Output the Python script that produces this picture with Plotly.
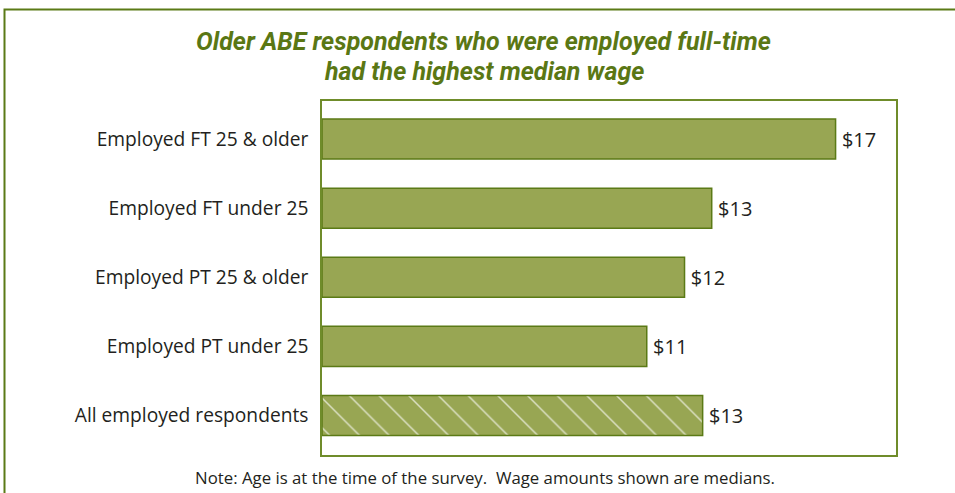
import plotly.graph_objects as go

# Median hourly wage by employment group
categories = [
    "Employed FT 25 & older",
    "Employed FT under 25",
    "Employed PT 25 & older",
    "Employed PT under 25",
    "All employed respondents",
]
median_wage = [17.0, 12.9, 12.0, 10.75, 12.6]

title_lines = [
    "Older ABE respondents who were employed full-time",
    "had the highest median wage",
]
note_text = "Note: Age is at the time of the survey.  Wage amounts shown are medians."

OLIVE_LINE = "#5b7a16"
FRAME = "#6f8c2a"
BAR_FILL = "#98a653"
TEXT = "#231f20"
TITLE = "#5a7714"

# Plot-area geometry (pixels)
W, H = 955, 493
L, R, T, B = 322, 896, 101, 455
pw, ph = R - L, B - T


def px_x(x):
    return (x - L) / pw


def px_y(y):
    return (B - y) / ph


n = len(categories)
patterns = [""] * (n - 1) + ["\\"]

fig = go.Figure(
    go.Bar(
        x=median_wage,
        y=categories,
        orientation="h",
        width=0.58,
        marker=dict(
            color=BAR_FILL,
            line=dict(color=OLIVE_LINE, width=1.5),
            pattern=dict(
                shape=patterns,
                fgcolor="white",
                fgopacity=0.65,
                size=21,
                solidity=0.07,
            ),
        ),
        texttemplate="\u2009$%{x:.0f}",
        textposition="outside",
        textfont=dict(family="Open Sans", size=20, color=TEXT),
        cliponaxis=False,
        hoverinfo="skip",
    )
)

title_annotations = [
    dict(
        text="<b><i>" + line + "</i></b>",
        xref="paper",
        yref="paper",
        x=px_x(483.5),
        y=px_y(yc),
        xanchor="center",
        yanchor="middle",
        showarrow=False,
        font=dict(family="Roboto", size=25, color=TITLE),
    )
    for line, yc in zip(title_lines, [42, 71])
]

fig.update_layout(
    width=W,
    height=H,
    margin=dict(l=L, r=W - R, t=T, b=H - B, pad=0),
    paper_bgcolor="white",
    plot_bgcolor="white",
    showlegend=False,
    font=dict(family="Open Sans", color=TEXT),
    xaxis=dict(
        range=[0, 19],
        showgrid=False,
        zeroline=False,
        showticklabels=False,
        ticks="",
        showline=True,
        mirror=True,
        linecolor=FRAME,
        linewidth=1.5,
        fixedrange=True,
    ),
    yaxis=dict(
        type="category",
        range=[4.572, -0.551],
        showgrid=False,
        zeroline=False,
        ticks="",
        ticklabelstandoff=8,
        tickfont=dict(family="Open Sans", size=19.2, color=TEXT),
        showline=True,
        mirror=True,
        linecolor=FRAME,
        linewidth=1.5,
        fixedrange=True,
    ),
    annotations=title_annotations + [
        dict(
            text=note_text,
            xref="paper",
            yref="paper",
            x=px_x(484.5),
            y=px_y(478),
            xanchor="center",
            yanchor="middle",
            showarrow=False,
            font=dict(family="Open Sans", size=16.8, color=TEXT),
        ),
    ],
    shapes=[
        # outer panel border (runs off the right and bottom edges)
        dict(
            type="rect",
            xref="paper",
            yref="paper",
            x0=px_x(4.5),
            x1=px_x(W + 20),
            y0=px_y(H + 20),
            y1=px_y(9.5),
            line=dict(color=OLIVE_LINE, width=2),
            fillcolor="rgba(0,0,0,0)",
            layer="below",
        )
    ],
)

fig.write_html("out.html")
